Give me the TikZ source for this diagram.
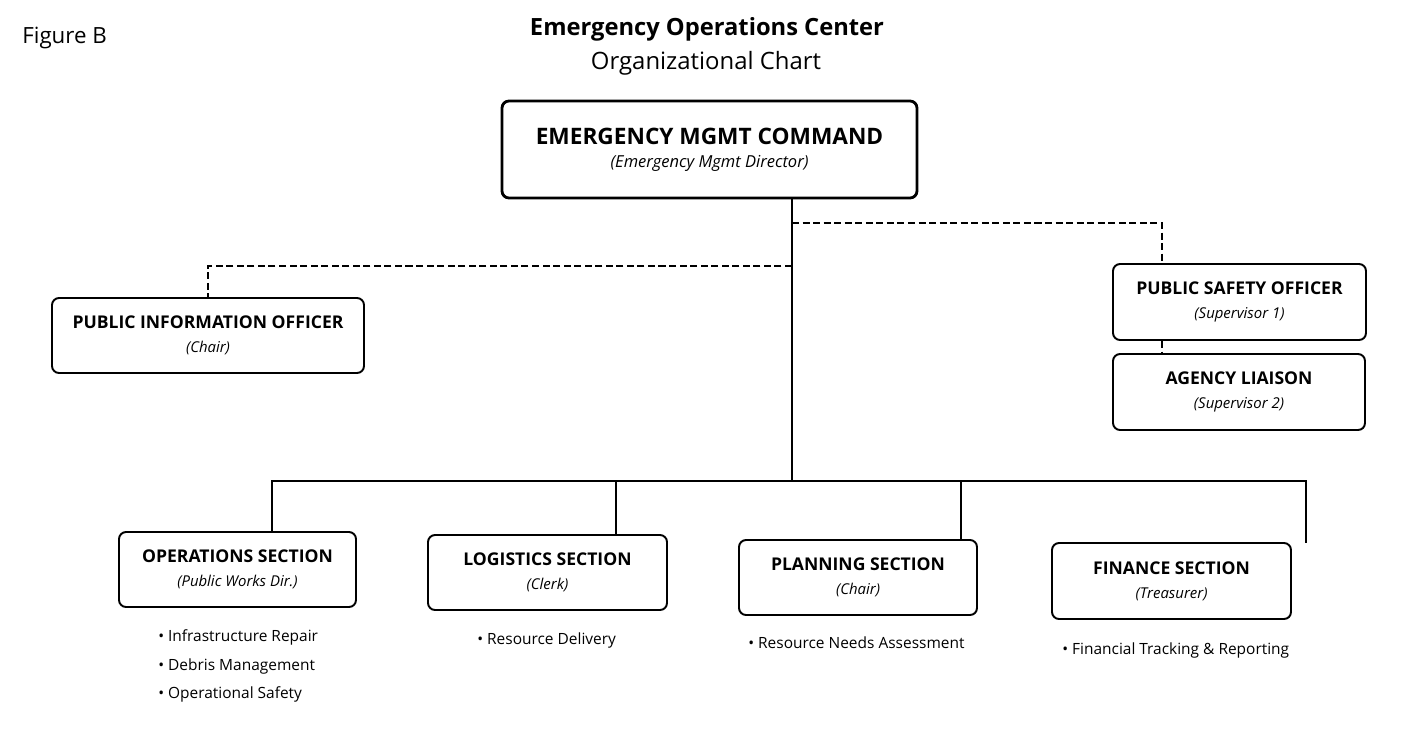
\documentclass[tikz,border=0pt]{standalone}
\usepackage{fontspec}
\setmainfont{Open Sans}
\newcommand{\rolefont}{\mdseries\itshape\fontsize{8.5}{10}\selectfont}
\begin{document}
\begin{tikzpicture}[x=0.02cm, y=-0.02cm,
    unit/.style={draw, rounded corners=4pt, line width=1.1pt, align=center, inner sep=0pt,
      font=\bfseries\fontsize{10}{12}\selectfont, execute at begin node={\rule{0pt}{13pt}}},
    duty/.style={align=left, anchor=north west, inner sep=0pt, font=\fontsize{8.8}{16.4}\selectfont},
    link/.style={line width=1.4pt},
    dashlink/.style={line width=1pt, dash pattern=on 4pt off 2pt}]
    \useasboundingbox (0,0) rectangle (1409,747);

    % headings
    \node[anchor=west, inner sep=0pt, font=\fontsize{12.7}{15}\selectfont] (fig) at (22,38) {Figure B};
    \node[font=\bfseries\fontsize{13.5}{16}\selectfont] (title) at (707,29) {Emergency Operations Center};
    \node[font=\fontsize{13.6}{16}\selectfont] (subtitle) at (706,63) {Organizational Chart};

    % command and staff
    \node[unit, line width=1.6pt, minimum width=415*0.02cm, minimum height=97*0.02cm,
      font=\bfseries\fontsize{12.9}{14}\selectfont, execute at begin node={\rule{0pt}{18pt}}] (emc) at (709.5,149.5)
      {EMERGENCY MGMT COMMAND\\[-1pt]{\rolefont\fontsize{9.4}{11}\selectfont (Emergency Mgmt Director)}};
    \node[unit, minimum width=312*0.02cm, minimum height=75*0.02cm] (pio) at (208,335.5)
      {PUBLIC INFORMATION OFFICER\\[2pt]{\rolefont (Chair)}};
    \node[unit, minimum width=253*0.02cm, minimum height=76*0.02cm] (pso) at (1239.5,302)
      {PUBLIC SAFETY OFFICER\\[2pt]{\rolefont (Supervisor 1)}};
    \node[unit, minimum width=252*0.02cm, minimum height=76*0.02cm] (agl) at (1239,392)
      {AGENCY LIAISON\\[2pt]{\rolefont (Supervisor 2)}};

    % sections
    \node[unit, minimum width=237*0.02cm, minimum height=75*0.02cm] (ops) at (237.5,569.5)
      {OPERATIONS SECTION\\[1.5pt]{\rolefont (Public Works Dir.)}};
    \node[unit, minimum width=239*0.02cm, minimum height=75*0.02cm] (log) at (547.5,572.5)
      {LOGISTICS SECTION\\[1.5pt]{\rolefont (Clerk)}};
    \node[unit, minimum width=238*0.02cm, minimum height=75*0.02cm] (pln) at (858,577.5)
      {PLANNING SECTION\\[1.5pt]{\rolefont (Chair)}};
    \node[unit, minimum width=239*0.02cm, minimum height=76*0.02cm] (fin) at (1171.5,581)
      {FINANCE SECTION\\[1.5pt]{\rolefont (Treasurer)}};

    \node[duty] (opsduty) at (158,629) {\textbullet\ Infrastructure Repair\\\textbullet\ Debris Management\\\textbullet\ Operational Safety};
    \node[duty] (logduty) at (477,632) {\textbullet\ Resource Delivery};
    \node[duty] (plnduty) at (748,636) {\textbullet\ Resource Needs Assessment};
    \node[duty] (finduty) at (1062,642) {\textbullet\ Financial Tracking \& Reporting};

    % solid lines
    \coordinate (hub) at (792,481);
    \coordinate (tail) at (1306,543);
    \draw[link] (hub |- emc.south) -- (hub);
    \draw[link] (272,0 |- ops.north) |- (tail |- hub) -- (tail);
    \draw[link] (616,0 |- log.north) -- (616,0 |- hub);
    \draw[link] (961,0 |- pln.north) -- (961,0 |- hub);

    % dashed lines
    \draw[dashlink] (hub |- 0,223) -| (1162,0 |- pso.north);
    \draw[dashlink] (hub |- 0,266) -| (208,0 |- pio.north);
    \draw[dashlink] (1162,0 |- pso.south) -- (1162,0 |- agl.north);
\end{tikzpicture}
\end{document}
